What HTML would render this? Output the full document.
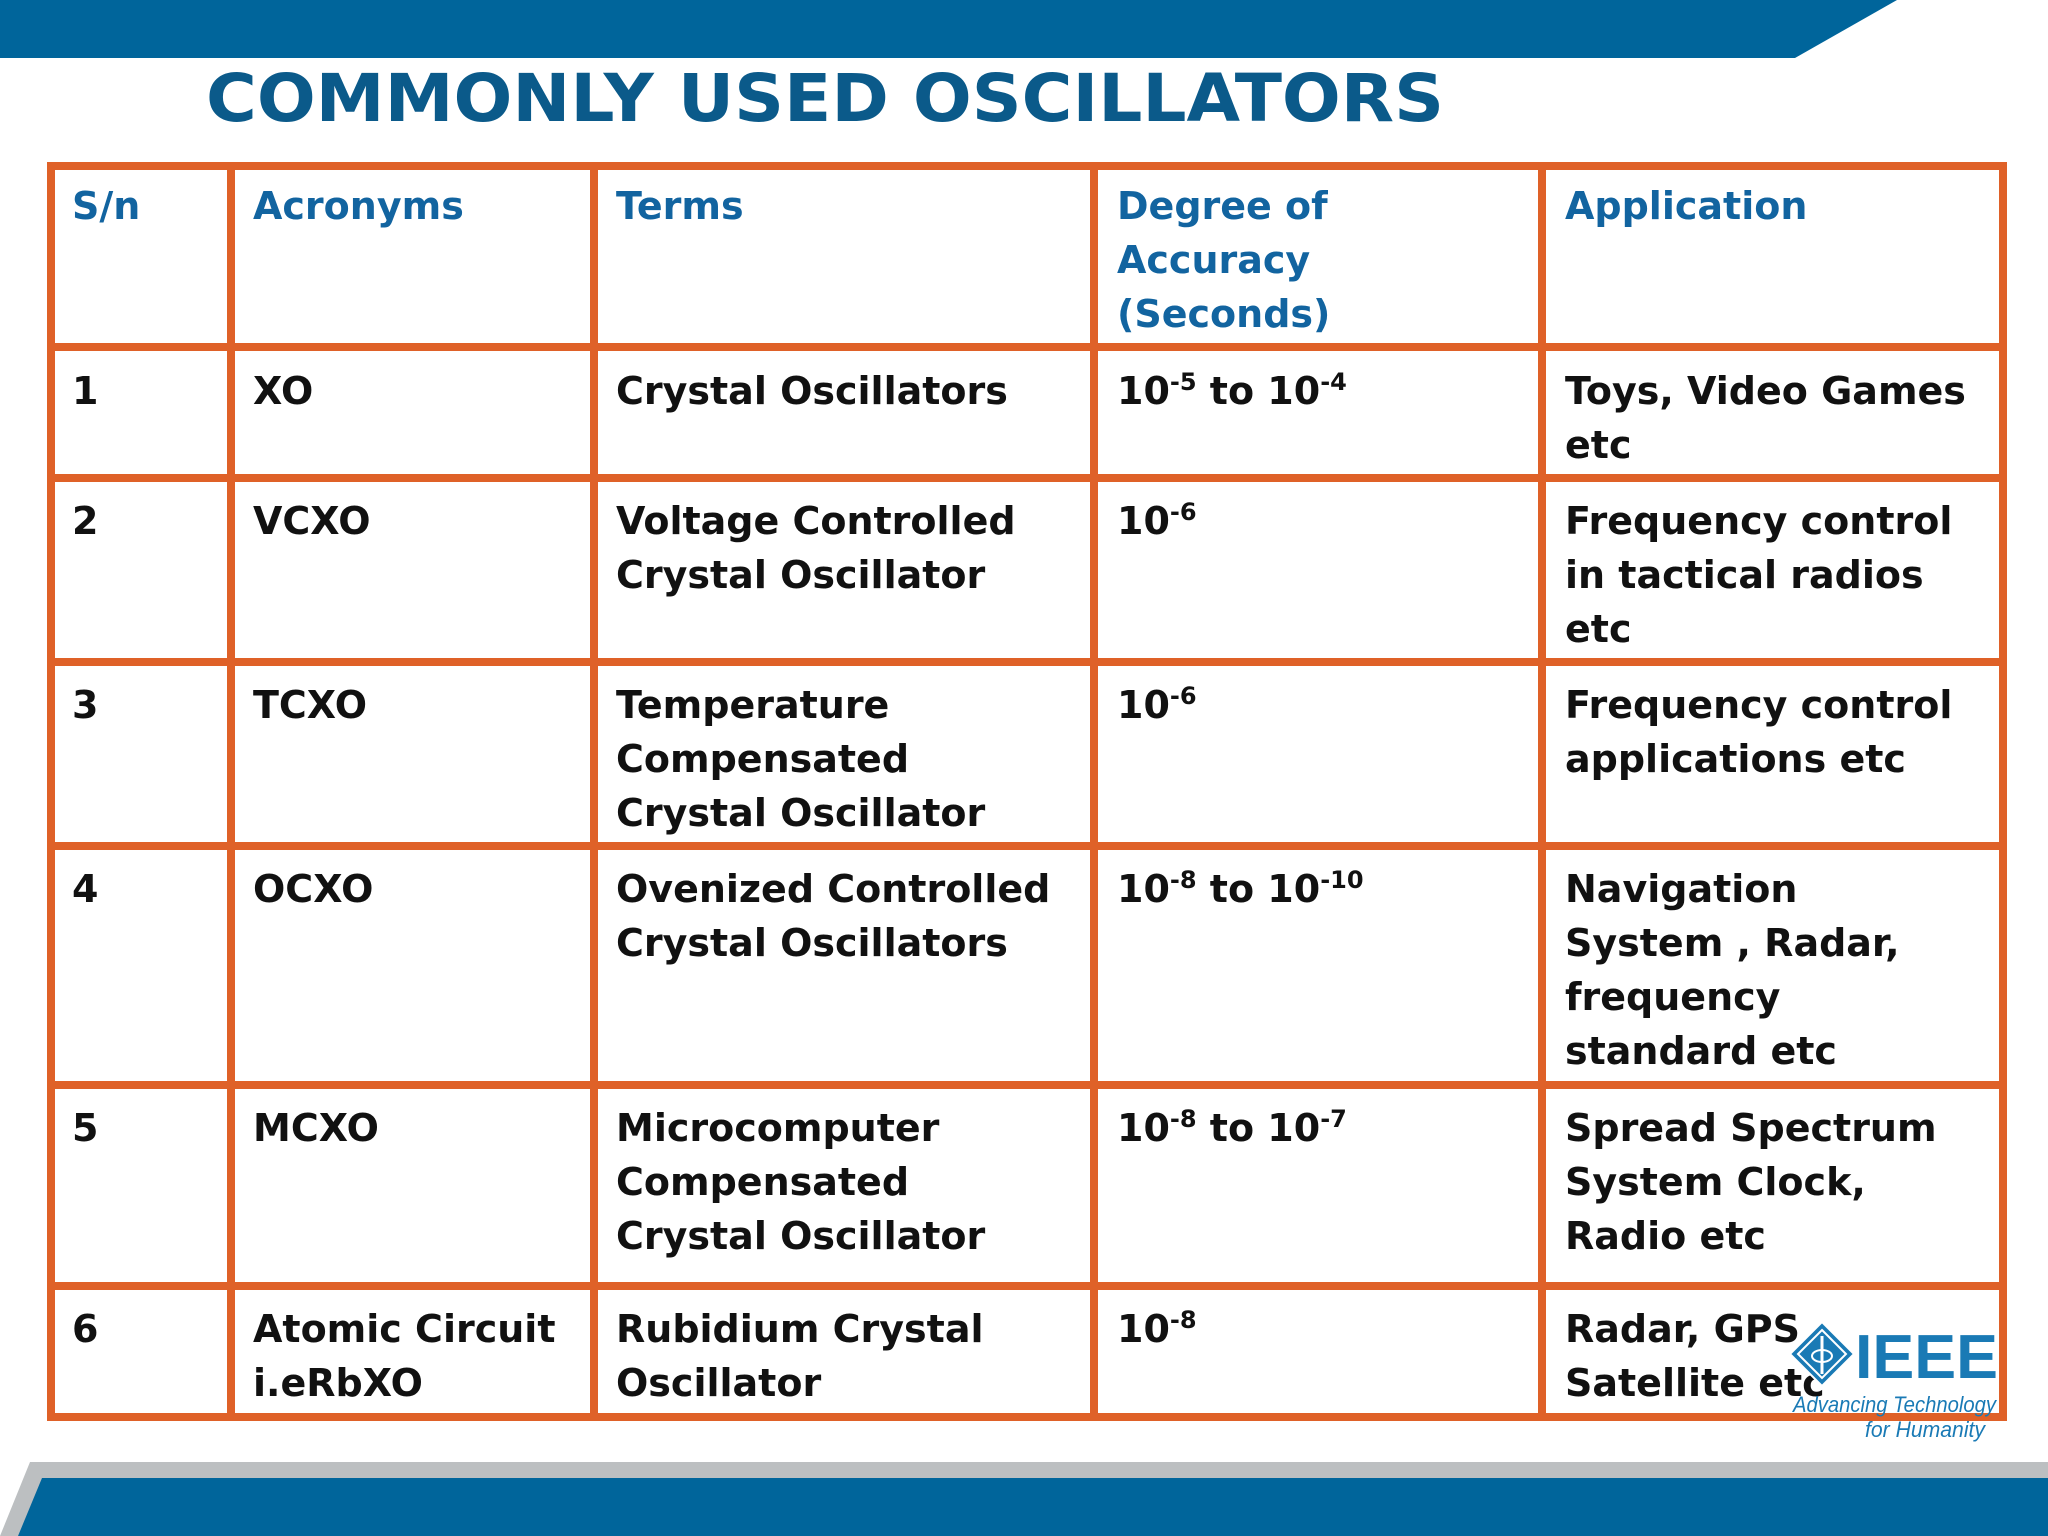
<!DOCTYPE html>
<html><head><meta charset="utf-8">
<style>
body{margin:0;width:2048px;height:1536px;position:relative;overflow:hidden;background:#fff;font-family:"DejaVu Sans",sans-serif;}
.c{position:absolute;font-weight:bold;font-size:38px;line-height:54px;color:#111;white-space:nowrap;}
.h{color:#1264a0;}
sup{font-size:24px;vertical-align:0;position:relative;top:-14px;}
</style></head><body>
<svg width="2048" height="1536" style="position:absolute;left:0;top:0">
 <polygon points="0,0 1897,0 1795,58 0,58" fill="#00659b"/>
 <polygon points="30,1462 2048,1462 2048,1536 0,1536" fill="#bcbfc1"/>
 <polygon points="42,1478 2048,1478 2048,1536 18,1536" fill="#00659b"/>
 <text x="206" y="121" textLength="1238" lengthAdjust="spacingAndGlyphs" font-family="DejaVu Sans, sans-serif" font-weight="bold" font-size="66" fill="#0b5a8a">COMMONLY USED OSCILLATORS</text>
 <g stroke="#df6128" stroke-width="8" fill="none">
  <rect x="51" y="166" width="1952" height="1251"/>
  <line x1="231" y1="166" x2="231" y2="1417"/><line x1="594" y1="166" x2="594" y2="1417"/>
  <line x1="1094" y1="166" x2="1094" y2="1417"/><line x1="1542" y1="166" x2="1542" y2="1417"/>
  <line x1="51" y1="347" x2="2003" y2="347"/><line x1="51" y1="478" x2="2003" y2="478"/>
  <line x1="51" y1="662" x2="2003" y2="662"/><line x1="51" y1="846" x2="2003" y2="846"/>
  <line x1="51" y1="1085" x2="2003" y2="1085"/><line x1="51" y1="1286" x2="2003" y2="1286"/>
 </g>
</svg>

<div class="c h" style="left:72px;top:179px">S/n</div>
<div class="c h" style="left:253px;top:179px">Acronyms</div>
<div class="c h" style="left:616px;top:179px">Terms</div>
<div class="c h" style="left:1117px;top:179px">Degree of<br>Accuracy<br>(Seconds)</div>
<div class="c h" style="left:1565px;top:179px">Application</div>

<div class="c" style="left:72px;top:364px">1</div>
<div class="c" style="left:253px;top:364px">XO</div>
<div class="c" style="left:616px;top:364px">Crystal Oscillators</div>
<div class="c" style="left:1117px;top:364px">10<sup>-5</sup> to 10<sup>-4</sup></div>
<div class="c" style="left:1565px;top:364px">Toys, Video Games<br>etc</div>

<div class="c" style="left:72px;top:494px">2</div>
<div class="c" style="left:253px;top:494px">VCXO</div>
<div class="c" style="left:616px;top:494px">Voltage Controlled<br>Crystal Oscillator</div>
<div class="c" style="left:1117px;top:494px">10<sup>-6</sup></div>
<div class="c" style="left:1565px;top:494px">Frequency control<br>in tactical radios<br>etc</div>

<div class="c" style="left:72px;top:678px">3</div>
<div class="c" style="left:253px;top:678px">TCXO</div>
<div class="c" style="left:616px;top:678px">Temperature<br>Compensated<br>Crystal Oscillator</div>
<div class="c" style="left:1117px;top:678px">10<sup>-6</sup></div>
<div class="c" style="left:1565px;top:678px">Frequency control<br>applications etc</div>

<div class="c" style="left:72px;top:862px">4</div>
<div class="c" style="left:253px;top:862px">OCXO</div>
<div class="c" style="left:616px;top:862px">Ovenized Controlled<br>Crystal Oscillators</div>
<div class="c" style="left:1117px;top:862px">10<sup>-8</sup> to 10<sup>-10</sup></div>
<div class="c" style="left:1565px;top:862px">Navigation<br>System , Radar,<br>frequency<br>standard etc</div>

<div class="c" style="left:72px;top:1101px">5</div>
<div class="c" style="left:253px;top:1101px">MCXO</div>
<div class="c" style="left:616px;top:1101px">Microcomputer<br>Compensated<br>Crystal Oscillator</div>
<div class="c" style="left:1117px;top:1101px">10<sup>-8</sup> to 10<sup>-7</sup></div>
<div class="c" style="left:1565px;top:1101px">Spread Spectrum<br>System Clock,<br>Radio etc</div>

<div class="c" style="left:72px;top:1302px">6</div>
<div class="c" style="left:253px;top:1302px">Atomic Circuit<br>i.eRbXO</div>
<div class="c" style="left:616px;top:1302px">Rubidium Crystal<br>Oscillator</div>
<div class="c" style="left:1117px;top:1302px">10<sup>-8</sup></div>
<div class="c" style="left:1565px;top:1302px">Radar, GPS<br>Satellite etc</div>

<svg width="2048" height="1536" style="position:absolute;left:0;top:0;pointer-events:none">
 <g>
  <polygon points="1822,1322 1854,1354 1822,1386 1790,1354" fill="#1a7ab5" stroke="#fff" stroke-width="2"/>
  <polygon points="1822,1330 1846,1354 1822,1378 1798,1354" fill="none" stroke="#fff" stroke-width="2"/>
  <line x1="1822" y1="1336" x2="1822" y2="1374" stroke="#fff" stroke-width="3"/>
  <ellipse cx="1822" cy="1356" rx="10" ry="6" fill="none" stroke="#fff" stroke-width="2"/>
  <text x="1855" y="1378" textLength="143" lengthAdjust="spacingAndGlyphs" font-family="Liberation Sans, sans-serif" font-weight="bold" font-size="62" fill="#1a7ab5">IEEE</text>
  <text x="1793" y="1412" textLength="203" lengthAdjust="spacingAndGlyphs" font-family="Liberation Sans, sans-serif" font-style="italic" font-size="22" fill="#1a7ab5">Advancing Technology</text>
  <text x="1865" y="1437" textLength="120" lengthAdjust="spacingAndGlyphs" font-family="Liberation Sans, sans-serif" font-style="italic" font-size="22" fill="#1a7ab5">for Humanity</text>
 </g>
</svg>
</body></html>
